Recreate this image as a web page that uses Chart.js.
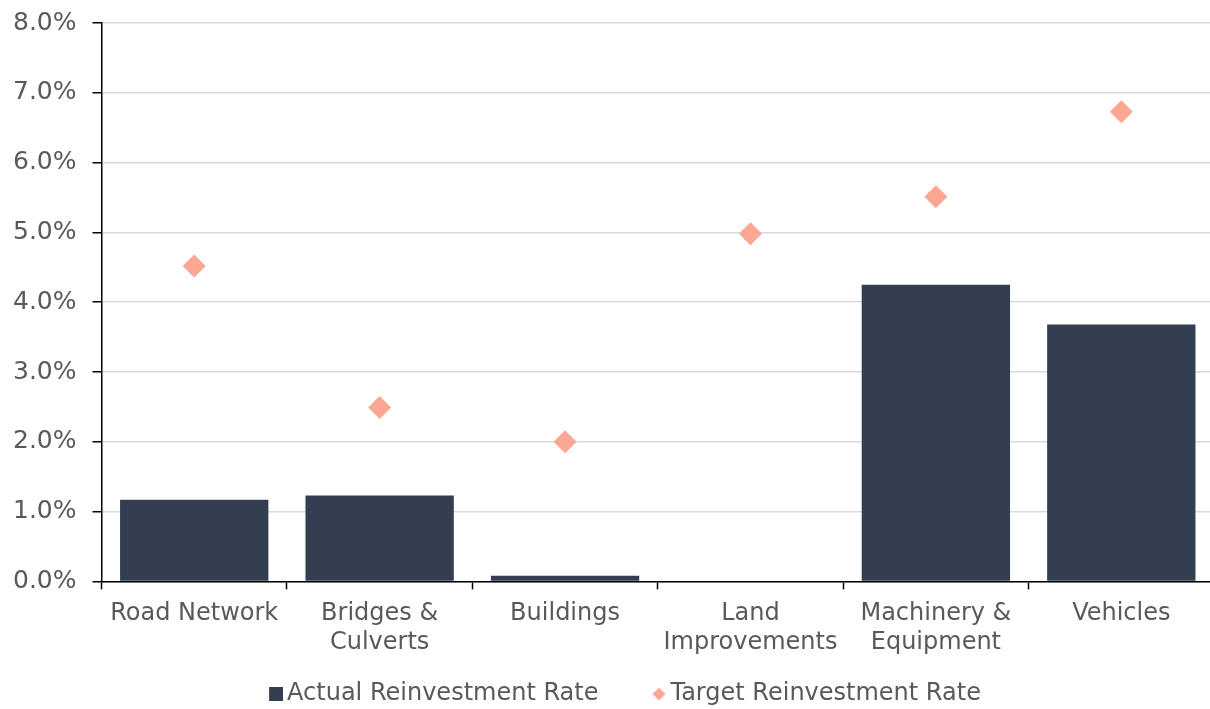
<!DOCTYPE html>
<html>
<head>
<meta charset="utf-8">
<script src="https://cdn.jsdelivr.net/npm/chart.js@4"></script>
<style>
  html, body { margin: 0; padding: 0; background: #fff; overflow: hidden; }
  #wrap { width: 1214px; height: 709px; }
</style>
</head>
<body>
<div id="wrap"><canvas id="myChart"></canvas></div>
<script>
// categories and rates (percent)
const categories = [
    ["Road Network"],
    ["Bridges &", "Culverts"],
    ["Buildings"],
    ["Land", "Improvements"],
    ["Machinery &", "Equipment"],
    ["Vehicles"]
];
const actualRate = [1.17, 1.23, 0.08, 0, 4.25, 3.68];
const targetRate = [4.52, 2.49, 2.00, 4.98, 5.51, 6.73];

const BAR_COLOR = "#333f50";
const DOT_COLOR = "#fca694";
const TEXT_COLOR = "#595959";
const FONT = "'DejaVu Sans', Verdana, sans-serif";

// legend box is wide so the two entries sit apart; the marker is drawn at its right end
const LEGEND_BOX = 45;
const LEGEND_PAD = 15;

function makeMarker(kind, color) {
    const c = document.createElement("canvas");
    c.width = LEGEND_BOX + 16;
    c.height = 14;
    const g = c.getContext("2d");
    g.fillStyle = color;
    const x0 = LEGEND_BOX + 2;
    if (kind === "square") {
        g.fillRect(x0, 0, 14, 14);
    } else {
        g.beginPath();
        g.moveTo(x0 + 6.5, 0.5);
        g.lineTo(x0 + 13, 7);
        g.lineTo(x0 + 6.5, 13.5);
        g.lineTo(x0, 7);
        g.closePath();
        g.fill();
    }
    return c;
}
const squareMark = makeMarker("square", BAR_COLOR);
const diamondMark = makeMarker("diamond", DOT_COLOR);

const myChart = new Chart("myChart", {
    type: "bar",
    data: {
        labels: categories,
        datasets: [
            {
                label: "Actual Reinvestment Rate",
                data: actualRate,
                backgroundColor: BAR_COLOR,
                barPercentage: 0.8,
                categoryPercentage: 1.0,
            },
            {
                type: "line",
                label: "Target Reinvestment Rate",
                data: targetRate,
                showLine: false,
                pointStyle: "rectRot",
                pointRadius: 11.5,
                pointHoverRadius: 11.5,
                pointBorderWidth: 0,
                pointBackgroundColor: DOT_COLOR,
                borderColor: DOT_COLOR,
            },
        ],
    },
    options: {
        responsive: true,
        maintainAspectRatio: false,
        animation: false,
        layout: {
            autoPadding: false,
            padding: { left: -3, right: 0, top: 23, bottom: -7 },
        },
        plugins: {
            tooltip: { enabled: false },
            legend: {
                position: "bottom",
                labels: {
                    usePointStyle: true,
                    pointStyleWidth: LEGEND_BOX,
                    boxHeight: 14,
                    padding: LEGEND_PAD,
                    color: TEXT_COLOR,
                    font: { family: FONT, size: 24 },
                    generateLabels: (chart) => [
                        { text: chart.data.datasets[0].label, pointStyle: squareMark, datasetIndex: 0, fontColor: TEXT_COLOR, lineWidth: 0 },
                        { text: chart.data.datasets[1].label, pointStyle: diamondMark, datasetIndex: 1, fontColor: TEXT_COLOR, lineWidth: 0 },
                    ],
                },
            },
        },
        scales: {
            x: {
                grid: {
                    offset: true,
                    drawOnChartArea: false,
                    drawTicks: true,
                    tickLength: 8,
                    tickColor: "#000",
                    tickWidth: 1.5,
                },
                border: { color: "#000", width: 1.5 },
                ticks: {
                    color: TEXT_COLOR,
                    padding: 10,
                    maxRotation: 0,
                    autoSkip: false,
                    font: { family: FONT, size: 24 },
                },
            },
            y: {
                min: 0,
                max: 8,
                // top label may stick out above the plot; no extra room needed
                afterFit: (scale) => {
                    scale.paddingTop = 0;
                    scale.paddingBottom = 0;
                },
                grid: {
                    color: "#d9d9d9",
                    lineWidth: 1.5,
                    tickLength: 9,
                    tickColor: "#000",
                    tickWidth: 1.5,
                },
                border: { color: "#000", width: 1.5 },
                ticks: {
                    stepSize: 1,
                    color: TEXT_COLOR,
                    padding: 16,
                    font: { family: FONT, size: 25 },
                    callback: (v) => v.toFixed(1) + "%",
                },
            },
        },
    },
});
</script>
</body>
</html>
